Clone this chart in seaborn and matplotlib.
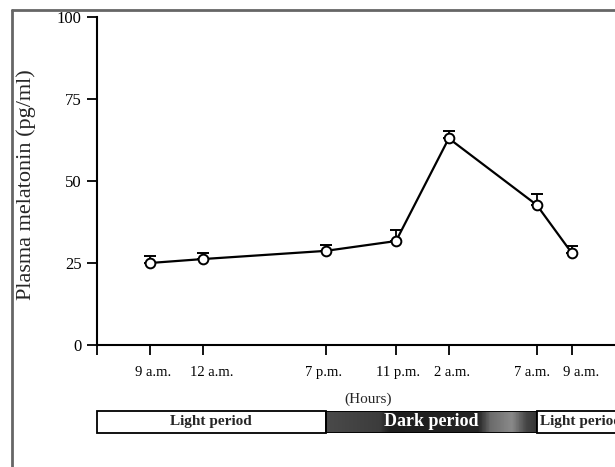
import matplotlib
matplotlib.use("Agg")
import matplotlib.pyplot as plt
import matplotlib.lines as mlines
import matplotlib.transforms as mtransforms
from matplotlib.colors import LinearSegmentedColormap
import seaborn as sns
import numpy as np
import pandas as pd

# Sampling times (hours after 9 a.m.) and melatonin levels
hours = [0, 3, 10, 14, 17, 22, 24]
tick_labels = ["9 a.m.", "12 a.m.", "7 p.m.", "11 p.m.", "2 a.m.", "7 a.m.", "9 a.m."]
melatonin = [25.0, 26.2, 28.7, 31.7, 63.0, 42.7, 28.0]
sem = [2.0, 1.8, 1.8, 3.3, 2.2, 3.2, 2.2]

# light / dark periods (start, end in hours, label)
period_start = [-3, 10, 22]
period_end = [10, 22, 30]
period_name = ["Light period", "Dark period", "Light period"]

# the original labels are not exactly centred on their ticks (pixels)
label_shift = [3.5, 9, -2, 2, 3.5, -4.5, 9.5]

df = pd.DataFrame({"hours": hours, "melatonin": melatonin})

sns.set_style("ticks")
plt.rcParams["font.family"] = ["Liberation Serif", "DejaVu Serif"]

fig = plt.figure(figsize=(6.15, 4.67), dpi=100)
ax = fig.add_axes([0.1577, 0.2612, 0.8423, 0.7024])

sns.lineplot(data=df, x="hours", y="melatonin", ax=ax, color="black", lw=1.6,
             marker="o", markersize=7, markerfacecolor="white",
             markeredgecolor="black", markeredgewidth=1.4, zorder=3)
ax.errorbar(hours, melatonin, yerr=[np.zeros(len(sem)), sem], fmt="none",
            ecolor="black", elinewidth=1.3, capsize=4.5, capthick=1.4, zorder=2)

xmin, xmax = -3, 26.45
ax.set_xlim(xmin, xmax)
ax.set_ylim(0, 100)
ax.set_yticks([0, 25, 50, 75, 100])
ax.set_xticks([xmin] + hours)
ax.set_xticklabels([""] + tick_labels)
ax.tick_params(axis="both", direction="out", length=7, width=1.3,
               colors="black")
ax.tick_params(axis="x", pad=8, labelsize=10.5)
ax.tick_params(axis="y", pad=4, labelsize=12)
for lab, dx in zip(ax.get_xticklabels()[1:], label_shift):
    lab.set_transform(lab.get_transform() +
                      mtransforms.ScaledTranslation(dx / 100, 0, fig.dpi_scale_trans))
for side in ["top", "right"]:
    ax.spines[side].set_visible(False)
for side in ["left", "bottom"]:
    ax.spines[side].set_linewidth(1.5)
    ax.spines[side].set_color("black")
ax.set_xlabel("")
ax.set_ylabel("Plasma melatonin (pg/ml)", fontsize=16)
ax.yaxis.set_label_coords(-0.118, 0.488)
fig.text(368 / 615, 1 - 399 / 467, "(Hours)", ha="center", va="center", fontsize=11)

# period bar
bx = fig.add_axes([0.1577, 1 - 433 / 467, 0.8423, 22 / 467])
bx.set_xlim(xmin, xmax)
bx.set_ylim(0, 1)
bx.axis("off")
grad = LinearSegmentedColormap.from_list(
    "dark", [(0.0, "#4a4a4a"), (0.25, "#3c3c3c"), (0.3, "#1e1e1e"),
             (0.72, "#242424"), (0.78, "#6c6c6c"), (0.88, "#8a8a8a"),
             (0.95, "#454545"), (1.0, "#333333")])
for s, e, name in zip(period_start, period_end, period_name):
    if name.startswith("Dark"):
        bx.imshow(np.linspace(0, 1, 200).reshape(1, -1), cmap=grad, aspect="auto",
                  extent=[s, e, 0, 1], zorder=1)
        bx.add_patch(plt.Rectangle((s, 0), e - s, 1, fill=False, ec="black",
                                   lw=1.3, zorder=2))
        bx.text((s + e) / 2, 0.5, name, ha="center", va="center", color="white",
                fontsize=13, fontweight="bold", zorder=3)
    else:
        bx.add_patch(plt.Rectangle((s, 0), e - s, 1, fc="white", ec="black",
                                   lw=1.3, zorder=2, clip_on=False))
        if s < 0:
            bx.text((s + e) / 2, 0.5, name, ha="center", va="center",
                    fontsize=11, fontweight="bold", zorder=3)
        else:
            bx.text(s + 0.2, 0.5, name, ha="left", va="center",
                    fontsize=11, fontweight="bold", zorder=3)

# outer frame of the figure
fig.add_artist(mlines.Line2D([12 / 615, 12 / 615], [0, 1 - 10 / 467],
                             transform=fig.transFigure, color="#666666", lw=2))
fig.add_artist(mlines.Line2D([12 / 615, 1], [1 - 10 / 467, 1 - 10 / 467],
                             transform=fig.transFigure, color="#666666", lw=2))

fig.savefig("out.png", dpi=100)
